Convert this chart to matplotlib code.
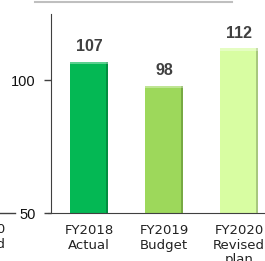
import numpy as np
import matplotlib.pyplot as plt
from matplotlib.lines import Line2D

plt.rcParams.update({'font.family': ['Liberation Sans', 'DejaVu Sans']})

# data
categories = ['FY2018\nActual', 'FY2019\nBudget', 'FY2020\nRevised\nplan']
values = [107, 98, 112]
colors = ['#04B854', '#9DD85B', '#D8FDA2']
shades = ['#03833C', '#6E9E3E', '#9DBB76']
yticks = [50, 100]

W, H = 265, 261
fig = plt.figure(figsize=(W / 100, H / 100), dpi=100)
ax = fig.add_axes([51 / W, 1 - 213 / H, (W - 51) / W, (213 - 14) / H])

x = np.arange(len(values))
bw = 0.507
ax.bar(x, np.array(values) - 50, bottom=50, width=bw, color=colors, zorder=2)
# darker right edge for the bevel look
ax.bar(x + bw / 2 - 0.03, np.array(values) - 50, bottom=50, width=0.03,
       align='edge', color=shades, zorder=3, alpha=0.8)
# lighter top edge
ax.bar(x, [1.0] * len(values), bottom=np.array(values) - 1.0, width=bw,
       color='white', alpha=0.35, zorder=3)

for xi, v in zip(x, values):
    ax.text(xi, v + 2.8, str(v), ha='center', va='bottom', fontsize=11.5,
            fontweight='bold', color='#404040')

ax.set_xlim(-0.507, 2.347)
ax.set_ylim(50, 125)
ax.set_yticks(yticks)
ax.set_yticklabels([str(t) for t in yticks], fontsize=10.5, color='#111111')
ax.set_xticks(x)
ax.set_xticklabels(categories, fontsize=9.5, color='#222222', linespacing=1.15,
                   family='DejaVu Sans')
ax.tick_params(axis='x', length=0, pad=8)
ax.tick_params(axis='y', length=5, width=1, color='#404040', pad=6, direction='out')
for s in ['top', 'right']:
    ax.spines[s].set_visible(False)
ax.spines['left'].set_color('#404040')
ax.spines['bottom'].set_color('#404040')
ax.spines['bottom'].set_bounds(-0.547, 2.347)

# gray rule at top and neighbouring chart fragments
fig.add_artist(Line2D([35 / W, 232 / W], [1 - 1.5 / H, 1 - 1.5 / H],
                      color='#BFBFBF', lw=1.5))
fig.add_artist(Line2D([0, 15 / W], [1 - 213 / H, 1 - 213 / H],
                      color='#404040', lw=1))
fig.text(6 / W, 1 - 223 / H, 'FY2020\nRevised', ha='right', va='top',
         fontsize=9.5, color='#222222', linespacing=1.15, family='DejaVu Sans')

fig.savefig('out.png', dpi=100)
